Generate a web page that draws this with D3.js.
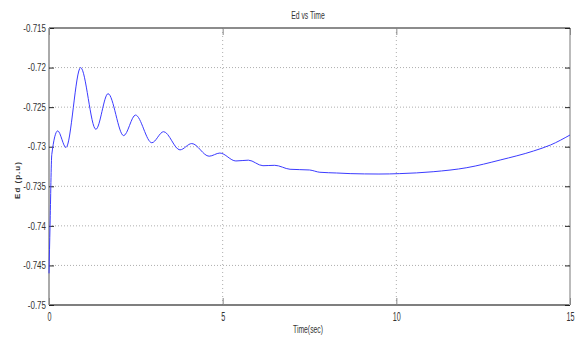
<html>
<head>
<script src="https://cdn.jsdelivr.net/npm/d3@7"></script>
<style>
    body { margin: 0; background: #fff; }
    text { font-family: 'Liberation Sans', Arial, sans-serif; fill: #333; }
</style>
</head>
<body>
    <svg id="container" width="579" height="340"></svg>
</body>
<script>
    // data
    let time = [0, 0.03, 0.08, 0.25, 0.49, 0.91, 1.35, 1.70, 2.15, 2.49, 2.96, 3.30, 3.77, 4.11, 4.61, 4.92, 5.38, 5.74, 6.16, 6.5, 6.94, 7.5, 7.8, 8.28, 8.67, 9.5, 10.1, 11.06, 12.03, 12.99, 13.95, 14.44, 15]
    let ed = [-0.746, -0.740, -0.731, -0.7280, -0.7301, -0.7200, -0.7278, -0.7233, -0.7286, -0.7260, -0.7295, -0.7281, -0.7304, -0.7296, -0.7312, -0.7308, -0.7318, -0.7317, -0.7324, -0.73235, -0.73285, -0.73294, -0.73323, -0.73332, -0.7334, -0.73345, -0.7334, -0.73316, -0.73265, -0.73168, -0.73054, -0.72978, -0.72852]
    let yTicks = [-0.75, -0.745, -0.74, -0.735, -0.73, -0.725, -0.72, -0.715]
    let xTicks = [0, 5, 10, 15]

    let svg = d3.select("#container")
    let pLeft = 49, pRight = 570, pTop = 28, pBottom = 305

    let x = d3.scaleLinear().domain([0, 15]).range([pLeft, pRight])
    let y = d3.scaleLinear().domain([-0.75, -0.715]).range([pBottom, pTop])

    // narrow the text like the original's condensed font
    function squeeze(sel, k) {
        sel.each(function () {
            let len = this.getComputedTextLength()
            d3.select(this).attr("textLength", len * k).attr("lengthAdjust", "spacingAndGlyphs")
        })
    }

    // grid
    svg.selectAll(".gy").data(yTicks.slice(1, -1)).enter().append("line")
        .attr("x1", pLeft).attr("x2", pRight)
        .attr("y1", d => y(d)).attr("y2", d => y(d))
        .attr("stroke", "#999").attr("stroke-width", 0.8).attr("stroke-dasharray", "1,2")
    svg.selectAll(".gx").data(xTicks.slice(1, -1)).enter().append("line")
        .attr("y1", pTop).attr("y2", pBottom)
        .attr("x1", d => x(d)).attr("x2", d => x(d))
        .attr("stroke", "#999").attr("stroke-width", 0.8).attr("stroke-dasharray", "1,3")

    // frame
    svg.append("line").attr("x1", pLeft).attr("x2", pRight).attr("y1", pTop).attr("y2", pTop)
        .attr("stroke", "#666").attr("stroke-width", 1.5)
    svg.append("line").attr("x1", pLeft).attr("x2", pRight).attr("y1", pBottom).attr("y2", pBottom)
        .attr("stroke", "#555").attr("stroke-width", 1.5)
    svg.append("line").attr("x1", pLeft).attr("x2", pLeft).attr("y1", pTop).attr("y2", pBottom)
        .attr("stroke", "#aaa").attr("stroke-width", 2)
    svg.append("line").attr("x1", pRight).attr("x2", pRight).attr("y1", pTop).attr("y2", pBottom)
        .attr("stroke", "#bbb").attr("stroke-width", 2)

    // y axis
    let yAxis = d3.axisLeft(y).tickValues(yTicks).tickSize(-5).tickPadding(3)
        .tickFormat(d => String(+d.toFixed(3)))
    let gy = svg.append("g").attr("transform", `translate(${pLeft},0)`).call(yAxis)
    gy.select(".domain").remove()
    gy.selectAll(".tick line").attr("stroke", "#222")
    gy.selectAll("text").attr("font-size", 10).attr("fill", "#444").attr("font-family", "Liberation Sans, Arial, sans-serif")
        .call(squeeze, 0.8)
    svg.append("g").attr("transform", `translate(${pRight},0)`)
        .call(d3.axisRight(y).tickValues(yTicks).tickSize(-5).tickFormat(""))
        .call(g => g.select(".domain").remove())
        .selectAll(".tick line").attr("stroke", "#222")

    // x axis
    let xAxis = d3.axisBottom(x).tickValues(xTicks).tickSize(-7).tickPadding(7)
    let gx = svg.append("g").attr("transform", `translate(0,${pBottom})`).call(xAxis)
    gx.select(".domain").remove()
    gx.selectAll(".tick line").attr("stroke", "#888")
    gx.selectAll("text").attr("font-size", 12).attr("fill", "#555").attr("font-family", "Liberation Sans, Arial, sans-serif")
        .call(squeeze, 0.6)
    svg.append("g").attr("transform", `translate(0,${pTop})`)
        .call(d3.axisTop(x).tickValues(xTicks).tickSize(-7).tickFormat(""))
        .call(g => g.select(".domain").remove())
        .selectAll(".tick line").attr("stroke", "#888")

    // line
    let line = d3.line().x((d, i) => x(time[i])).y(d => y(d)).curve(d3.curveMonotoneX)
    svg.append("path").datum(ed).attr("d", line)
        .attr("fill", "none").attr("stroke", "#3b3bff").attr("stroke-width", 1)

    // labels
    svg.append("text").attr("x", 308).attr("y", 19).attr("text-anchor", "middle")
        .attr("font-size", 10).attr("fill", "#555").text("Ed vs Time").call(squeeze, 0.68)
    svg.append("text").attr("x", 308).attr("y", 333).attr("text-anchor", "middle")
        .attr("font-size", 10).attr("fill", "#555").text("Time(sec)").call(squeeze, 0.68)
    svg.append("text").attr("transform", "translate(20,180) rotate(-90)").attr("text-anchor", "middle")
        .attr("font-size", 8).attr("font-weight", "bold").attr("fill", "#444").attr("letter-spacing", 1).text("Ed (p.u)")
</script>
</html>
